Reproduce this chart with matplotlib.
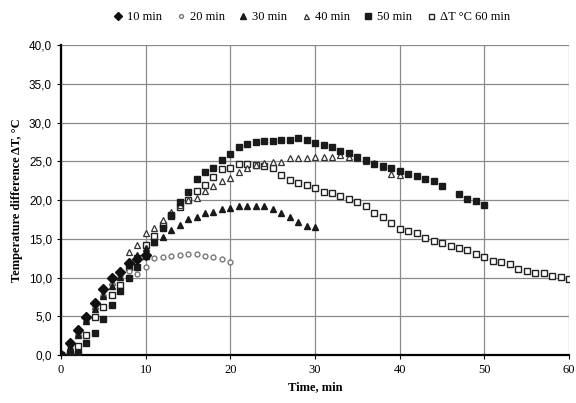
import numpy as np
import matplotlib
matplotlib.use('Agg')
import matplotlib.pyplot as plt
from matplotlib.ticker import FuncFormatter, MultipleLocator

plt.rcParams['font.family'] = ['Liberation Serif', 'DejaVu Serif']

# data (time in min, delta T in C)
dt_10 = [0, 1.5, 3.2, 4.9, 6.7, 8.5, 9.9, 10.7, 11.9, 12.4, 12.9]
dt_20 = [0, 1.2, 2.8, 4.5, 6.2, 7.8, 9.2, 10.2, 10.8, 10.4, 11.4,
         12.5, 12.6, 12.8, 12.9, 13.0, 13.0, 12.8, 12.6, 12.4, 12.0]
dt_30 = [0, 1.0, 2.6, 4.4, 6.0, 7.6, 8.9, 10.1, 11.6, 12.9, 13.8,
         14.6, 15.3, 16.1, 16.8, 17.5, 17.8, 18.3, 18.5, 18.8, 19.0,
         19.2, 19.3, 19.3, 19.2, 18.8, 18.3, 17.8, 17.2, 16.6, 16.5]
dt_40 = [0, 1.0, 2.8, 4.6, 6.3, 7.9, 9.4, 11.0, 13.3, 14.2, 15.7,
         16.4, 17.4, 18.4, 19.4, 20.0, 20.3, 21.2, 21.8, 22.4, 22.8,
         23.6, 24.2, 24.5, 24.8, 24.9, 24.9, 25.4, 25.4, 25.4, 25.6,
         25.6, 25.6, 25.8, 25.6, 25.4, 25.0, 24.8, 24.3, 23.4, 23.3]
dt_50 = [0, 0.1, 0.3, 1.5, 2.9, 4.6, 6.5, 8.3, 9.9, 11.3, 12.8,
         14.6, 16.4, 18.1, 19.7, 21.1, 22.7, 23.6, 24.2, 25.2, 26.0,
         26.9, 27.2, 27.5, 27.6, 27.6, 27.7, 27.8, 28.0, 27.7, 27.4,
         27.1, 26.8, 26.4, 26.1, 25.6, 25.2, 24.7, 24.4, 24.1, 23.8,
         23.4, 23.1, 22.7, 22.4, 21.8, np.nan, 20.8, 20.2, 19.9, 19.4]
dt_60 = [0, 0.1, 1.2, 2.6, 4.9, 6.2, 7.7, 9.0, 11.3, 12.5, 14.2,
         15.4, 16.8, 17.9, 19.1, 20.0, 21.2, 22.0, 23.0, 24.0, 24.2,
         24.6, 24.7, 24.5, 24.4, 24.2, 23.2, 22.6, 22.2, 21.9, 21.6,
         21.1, 20.9, 20.5, 20.1, 19.8, 19.2, 18.3, 17.8, 17.1, 16.3,
         16.0, 15.7, 15.1, 14.7, 14.4, 14.1, 13.8, 13.5, 13.1, 12.6,
         12.2, 12.0, 11.8, 11.1, 10.9, 10.6, 10.6, 10.2, 10.1, 9.8]

fig = plt.figure(figsize=(5.76, 4.03), dpi=100)
ax = fig.add_axes([0.106, 0.119, 0.882, 0.769])

ax.plot(range(len(dt_60)), dt_60, 's', ms=4.5, mfc='white', mec='#222222', mew=1.0, label='ΔT °C 60 min', zorder=3)
ax.plot(range(len(dt_50)), dt_50, 's', ms=5, color='#1a1a1a', label='50 min', zorder=4)
ax.plot(range(len(dt_40)), dt_40, '^', ms=4.5, mfc='white', mec='#333333', mew=0.9, label='40 min', zorder=3)
ax.plot(range(len(dt_30)), dt_30, '^', ms=5, color='#1a1a1a', label='30 min', zorder=4)
ax.plot(range(len(dt_20)), dt_20, 'o', ms=3.5, mfc='white', mec='#777777', mew=1.0, label='20 min', zorder=3)
ax.plot(range(len(dt_10)), dt_10, 'D', ms=5.5, color='#111111', label='10 min', zorder=5)

ax.set_xlim(0, 60)
ax.set_ylim(0, 40)
ax.xaxis.set_major_locator(MultipleLocator(10))
ax.yaxis.set_major_locator(MultipleLocator(5))
ax.yaxis.set_major_formatter(FuncFormatter(lambda v, p: ('%.1f' % v).replace('.', ',')))
ax.grid(True, color='#8a8a8a', lw=0.9)
for s in ['top', 'right']:
    ax.spines[s].set_visible(False)
for s in ['left', 'bottom']:
    ax.spines[s].set_linewidth(1.6)
ax.tick_params(length=3, labelsize=9)
for lab in ax.get_yticklabels():
    lab.set_family(['Liberation Sans', 'DejaVu Sans'])
    lab.set_fontsize(8.5)

ax.set_xlabel('Time, min', fontweight='bold', fontsize=9)
ax.set_ylabel('Temperature difference ΔT, °C', fontweight='bold', fontsize=9)

h, l = ax.get_legend_handles_labels()
order = [5, 4, 3, 2, 1, 0]
fig.legend([h[i] for i in order], [l[i] for i in order], loc='upper center',
           bbox_to_anchor=(0.54, 1.0), ncol=6, frameon=False, fontsize=9,
           handletextpad=0.2, columnspacing=1.0, handlelength=1.0, markerscale=0.8)

fig.savefig('out.png', dpi=100)
